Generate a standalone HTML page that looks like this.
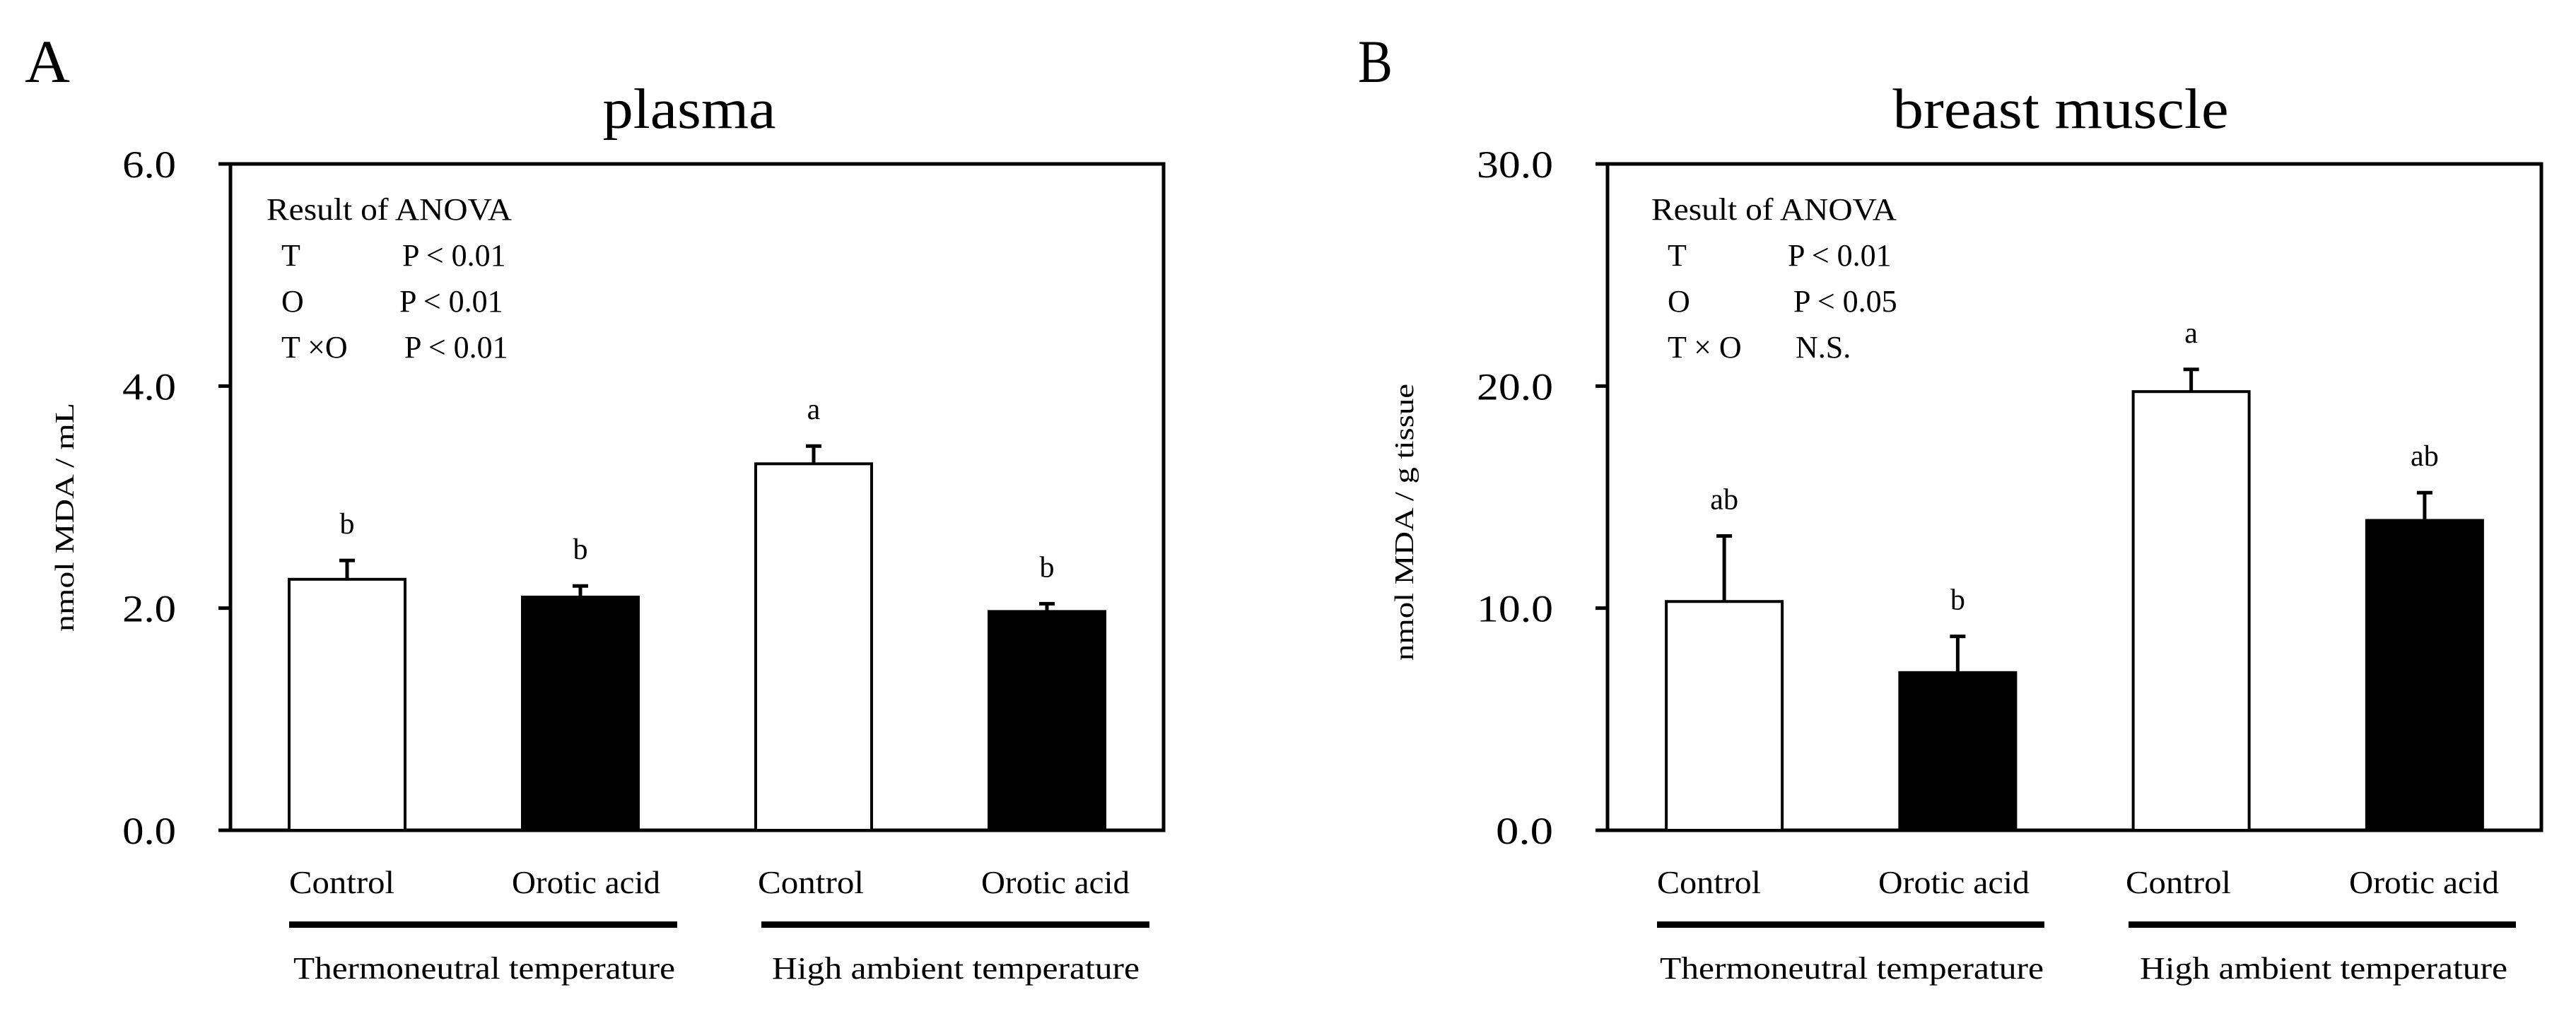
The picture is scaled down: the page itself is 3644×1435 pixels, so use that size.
<!DOCTYPE html>
<html><head><meta charset="utf-8"><style>
html,body{margin:0;padding:0;background:#fff;}
svg{display:block;}
text{font-family:"Liberation Serif",serif;fill:#000;}
</style></head><body>
<svg id="fig" width="3644" height="1435" viewBox="0 0 3644 1435" xmlns="http://www.w3.org/2000/svg">
<rect width="3644" height="1435" fill="#fff"/>
<g id="panelA"></g>
<g id="panelB"></g>
</svg>
<script>
const categories = ["Control", "Orotic acid", "Control", "Orotic acid"];
const fills = ["#fff", "#000", "#fff", "#000"];
const plasmaValues = [2.26, 2.10, 3.30, 1.97];
const plasmaErrors = [0.17, 0.10, 0.16, 0.07];
const plasmaLetters = ["b", "b", "a", "b"];
const plasmaTicks = [0, 2, 4, 6];
const plasmaTickLabels = ["0.0", "2.0", "4.0", "6.0"];
const muscleValues = [10.3, 7.1, 19.75, 13.95];
const muscleErrors = [2.95, 1.63, 1.0, 1.25];
const muscleLetters = ["ab", "b", "a", "ab"];
const muscleTicks = [0, 10, 20, 30];
const muscleTickLabels = ["0.0", "10.0", "20.0", "30.0"];
const groups = ["Thermoneutral temperature", "High ambient temperature"];

const NS = "http://www.w3.org/2000/svg";
function mk(parent, tag, attrs, txt) {
  const e = document.createElementNS(NS, tag);
  for (const k in attrs) e.setAttribute(k, attrs[k]);
  if (txt !== undefined) e.textContent = txt;
  parent.appendChild(e);
  return e;
}

function panel(g, cfg) {
  const L = cfg.left, R = cfg.right, T = 232, B = 1175;
  const y = v => B - (v - 0) / cfg.max * (B - T);
  const bw = (R - L) / categories.length;
  const xc = i => L + bw * (i + 0.5);
  let e;
  e = mk(g, "text", {x: cfg.letterX, y: 116, "font-size": 86, textLength: cfg.letterW, lengthAdjust: "spacingAndGlyphs"}, cfg.letter);
  
  
  e = mk(g, "text", {x: cfg.titleX, y: 181, "font-size": 80, "text-anchor": "middle", textLength: cfg.titleW, lengthAdjust: "spacingAndGlyphs"}, cfg.title);
  
  
  // frame
  e = mk(g, "rect", {x: L, y: T, width: R - L, height: B - T, fill: "none", stroke: "#000", "stroke-width": 5});
  
  
  // ticks
  cfg.ticks.forEach((t, i) => {
    const ty = y(t);
    const tk = mk(g, "line", {x1: L - 17, x2: L, y1: ty, y2: ty, stroke: "#000", "stroke-width": 5});
    
    
    const lb = mk(g, "text", {x: L - 77, y: ty + 19, "font-size": 54, "text-anchor": "end", textLength: cfg.tickLabels[i].length * cfg.tickCharW, lengthAdjust: "spacingAndGlyphs"}, cfg.tickLabels[i]);
    
    
  });
  // y-axis title
  e = mk(g, "text", {x: 0, y: 0, "font-size": 38, "text-anchor": "middle", transform: `translate(${cfg.yTitleX},${cfg.yTitleY}) rotate(-90)`, textLength: cfg.yTitleW, lengthAdjust: "spacingAndGlyphs"}, cfg.yTitle);
  
  
  // bars
  cfg.values.forEach((v, i) => {
    const cx = xc(i), w = 164;
    const top = y(v), et = y(v + cfg.errors[i]);
    const eb = mk(g, "line", {x1: cx, x2: cx, y1: top, y2: et, stroke: "#000", "stroke-width": 5});
    
    
    const cap = mk(g, "line", {x1: cx - 11, x2: cx + 11, y1: et, y2: et, stroke: "#000", "stroke-width": 5});
    
    
    const r = mk(g, "rect", {x: cx - w / 2, y: top, width: w, height: B - top, fill: fills[i], stroke: "#000", "stroke-width": 4});
    
    
    const lt = mk(g, "text", {x: cx, y: et - 38, "font-size": 42, "text-anchor": "middle"}, cfg.letters[i]);
    
    
    const cl = mk(g, "text", {x: cfg.catX[i], y: 1264, "font-size": 46, textLength: cfg.catW[i], lengthAdjust: "spacingAndGlyphs"}, categories[i]);
    
    
  });
  groups.forEach((gname, k) => {
    const ul = mk(g, "rect", {x: cfg.ulX[k], y: 1304, width: cfg.ulW, height: 9, fill: "#000"});
    
    
    const gl = mk(g, "text", {x: cfg.grpX[k], y: 1385, "font-size": 44, textLength: cfg.grpW[k], lengthAdjust: "spacingAndGlyphs"}, gname);
    
    
  });
  // ANOVA box
  const an = mk(g, "g", {});
  
  
  mk(an, "text", {x: cfg.anX, y: 311, "font-size": 44, textLength: 347, lengthAdjust: "spacingAndGlyphs"}, "Result of ANOVA");
  cfg.anova.forEach((row, k) => {
    const yy = 376 + k * 65;
    row.forEach(([tx, xx]) => mk(an, "text", {x: xx, y: yy, "font-size": 44}, tx));
  });
}

panel(document.getElementById("panelA"), {
  left: 326, right: 1646, max: 6, ticks: plasmaTicks, tickLabels: plasmaTickLabels, tickCharW: 25.3,
  values: plasmaValues, errors: plasmaErrors, letters: plasmaLetters,
  letter: "A", letterX: 35, letterW: 64, title: "plasma", titleX: 975, titleW: 245,
  yTitle: "nmol MDA / mL", yTitleX: 104, yTitleY: 732, yTitleW: 324,
  catX: [409, 724, 1072, 1388], catW: [149, 210, 150, 210],
  ulX: [409, 1077], ulW: 549, grpX: [415, 1092], grpW: [540, 520],
  anX: 377,
  anova: [
    [["T", 398], ["P < 0.01", 569]],
    [["O", 398], ["P < 0.01", 565]],
    [["T ×O", 398], ["P < 0.01", 572]]
  ]
});
panel(document.getElementById("panelB"), {
  left: 2274, right: 3595, max: 30, ticks: muscleTicks, tickLabels: muscleTickLabels, tickCharW: 27,
  values: muscleValues, errors: muscleErrors, letters: muscleLetters,
  letter: "B", letterX: 1921, letterW: 49, title: "breast muscle", titleX: 2915, titleW: 475,
  yTitle: "nmol MDA / g tissue", yTitleX: 1999, yTitleY: 739, yTitleW: 392,
  catX: [2344, 2657, 3007, 3323], catW: [147, 214, 149, 212],
  ulX: [2344, 3011], ulW: 548, grpX: [2348, 3027], grpW: [543, 520],
  anX: 2336,
  anova: [
    [["T", 2359], ["P < 0.01", 2529]],
    [["O", 2359], ["P < 0.05", 2537]],
    [["T × O", 2359], ["N.S.", 2540]]
  ]
});
</script>
</body></html>
